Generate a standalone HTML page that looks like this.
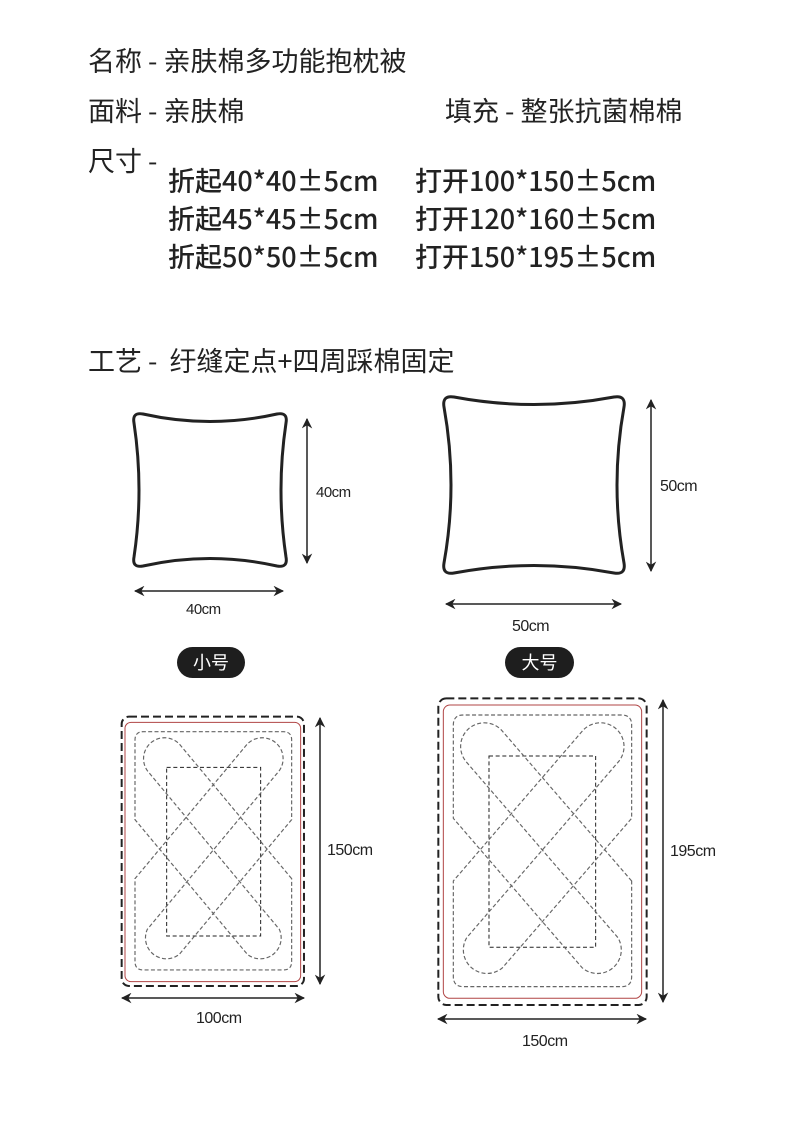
<!DOCTYPE html>
<html><head><meta charset="utf-8"><style>
html,body{margin:0;padding:0;background:#fff;}
body{width:790px;height:1135px;position:relative;overflow:hidden;font-family:"Noto Sans CJK SC","Liberation Sans",sans-serif;color:#222;}
.t{position:absolute;white-space:nowrap;font-size:27px;line-height:30px;}
.m{font-weight:500;letter-spacing:0;}
</style></head><body>
<div class="t" style="left:88px;top:45px;">名称 - 亲肤棉多功能抱枕被</div>
<div class="t" style="left:88px;top:95px;">面料 - 亲肤棉</div>
<div class="t" style="left:445px;top:95px;">填充 - 整张抗菌棉棉</div>
<div class="t" style="left:88px;top:145px;">尺寸 -</div>
<div class="t m" style="left:168px;top:165px;">折起40*40±5cm</div>
<div class="t m" style="left:168px;top:203px;">折起45*45±5cm</div>
<div class="t m" style="left:168px;top:241px;">折起50*50±5cm</div>
<div class="t m" style="left:415px;top:165px;">打开100*150±5cm</div>
<div class="t m" style="left:415px;top:203px;">打开120*160±5cm</div>
<div class="t m" style="left:415px;top:241px;">打开150*195±5cm</div>
<div class="t" style="left:88px;top:345px;">工艺 -&nbsp; 纡缝定点+四周踩棉固定</div>

<svg width="790" height="1135" style="position:absolute;left:0;top:0" xmlns="http://www.w3.org/2000/svg">
<defs>
<marker id="a" viewBox="0 0 10 10" refX="9" refY="5" markerWidth="7" markerHeight="7" orient="auto-start-reverse"><path d="M0,0 L10,5 L0,10 L3,5 Z" fill="#222"/></marker>
</defs>
<path d="M143,414 Q210,429 277,414 Q288,412 286,423 Q276,490 286,557 Q288,568 277,566 Q210,551 143,566 Q132,568 134,557 Q144,490 134,423 Q132,412 143,414 Z" fill="none" stroke="#222" stroke-width="3"/>
<line x1="307" y1="419" x2="307" y2="563" stroke="#222" stroke-width="1.5" marker-start="url(#a)" marker-end="url(#a)"/>
<line x1="135" y1="591" x2="283" y2="591" stroke="#222" stroke-width="1.5" marker-start="url(#a)" marker-end="url(#a)"/>
<text x="316" y="497" font-size="15" fill="#222" font-family="Liberation Sans,sans-serif" letter-spacing="-0.5">40cm</text>
<text x="186" y="614" font-size="15" fill="#222" font-family="Liberation Sans,sans-serif" letter-spacing="-0.5">40cm</text>
<path d="M454,397 Q534,412 614,397 Q626,395 624,407 Q610,485 624,563 Q626,575 614,573 Q534,558 454,573 Q442,575 444,563 Q458,485 444,407 Q442,395 454,397 Z" fill="none" stroke="#222" stroke-width="3"/>
<line x1="651" y1="400" x2="651" y2="571" stroke="#222" stroke-width="1.5" marker-start="url(#a)" marker-end="url(#a)"/>
<line x1="446" y1="604" x2="621" y2="604" stroke="#222" stroke-width="1.5" marker-start="url(#a)" marker-end="url(#a)"/>
<text x="660" y="491" font-size="16" fill="#222" font-family="Liberation Sans,sans-serif" letter-spacing="-0.5">50cm</text>
<text x="512" y="631" font-size="16" fill="#222" font-family="Liberation Sans,sans-serif" letter-spacing="-0.5">50cm</text>
<rect x="177" y="647" width="68" height="31" rx="15.5" fill="#1e1e1e"/>
<text x="211" y="669" font-size="18" fill="#fff" text-anchor="middle" font-family="Noto Sans CJK SC,sans-serif">小号</text>
<rect x="505" y="647" width="69" height="31" rx="15.5" fill="#1e1e1e"/>
<text x="539.5" y="669" font-size="18" fill="#fff" text-anchor="middle" font-family="Noto Sans CJK SC,sans-serif">大号</text>

<g transform="translate(110,700) scale(0.3333)">
<rect x="35" y="50" width="547" height="808" rx="22" fill="none" stroke="#222" stroke-width="6" stroke-dasharray="24 12"/>
<rect x="45" y="67" width="527" height="778" rx="18" fill="none" stroke="#b04545" stroke-width="3"/>
<rect x="170" y="202" width="282" height="506" fill="none" stroke="#222" stroke-width="3" stroke-dasharray="12 8"/>
<path d="M545,536 L208,132 A62.7,62.7 0 0 0 112,212 L508,688 A62.7,62.7 0 0 1 412,763 L75,359 L75,120 Q75,95 100,95 L520,95 Q545,95 545,120 L545,359 L208,763 A62.7,62.7 0 0 1 112,688 L508,212 A62.7,62.7 0 0 0 412,132 L75,536 L75,785 Q75,810 100,810 L520,810 Q545,810 545,785 Z" fill="none" stroke="#666" stroke-width="3.5" stroke-dasharray="12 7"/>
</g>
<line x1="320" y1="718" x2="320" y2="984" stroke="#222" stroke-width="1.5" marker-start="url(#a)" marker-end="url(#a)"/>
<line x1="122" y1="998" x2="304" y2="998" stroke="#222" stroke-width="1.5" marker-start="url(#a)" marker-end="url(#a)"/>
<text x="327" y="855" font-size="16" fill="#222" font-family="Liberation Sans,sans-serif" letter-spacing="-0.5">150cm</text>
<text x="196" y="1023" font-size="16" fill="#222" font-family="Liberation Sans,sans-serif" letter-spacing="-0.5">100cm</text>

<g transform="translate(425,690) scale(0.3333)">
<rect x="40" y="25" width="625" height="920" rx="24" fill="none" stroke="#222" stroke-width="6" stroke-dasharray="24 12"/>
<rect x="55" y="45" width="595" height="880" rx="20" fill="none" stroke="#b04545" stroke-width="3"/>
<rect x="192" y="198" width="320" height="574" fill="none" stroke="#222" stroke-width="3" stroke-dasharray="12 8"/>
<path d="M620,573 L231.8,123 A71,71 0 0 0 124.2,216 L578.8,743 A71,71 0 0 1 471.2,833 L85,385 L85,105 Q85,75 115,75 L590,75 Q620,75 620,105 L620,385 L232.8,833 A71,71 0 0 1 125.2,743 L579.8,216 A71,71 0 0 0 472.2,123 L85,573 L85,860 Q85,890 115,890 L590,890 Q620,890 620,860 Z" fill="none" stroke="#666" stroke-width="3.5" stroke-dasharray="12 7"/>
</g>
<line x1="663" y1="700" x2="663" y2="1002" stroke="#222" stroke-width="1.5" marker-start="url(#a)" marker-end="url(#a)"/>
<line x1="438" y1="1019" x2="646" y2="1019" stroke="#222" stroke-width="1.5" marker-start="url(#a)" marker-end="url(#a)"/>
<text x="670" y="856" font-size="16" fill="#222" font-family="Liberation Sans,sans-serif" letter-spacing="-0.5">195cm</text>
<text x="522" y="1046" font-size="16" fill="#222" font-family="Liberation Sans,sans-serif" letter-spacing="-0.5">150cm</text>
</svg>
</body></html>
